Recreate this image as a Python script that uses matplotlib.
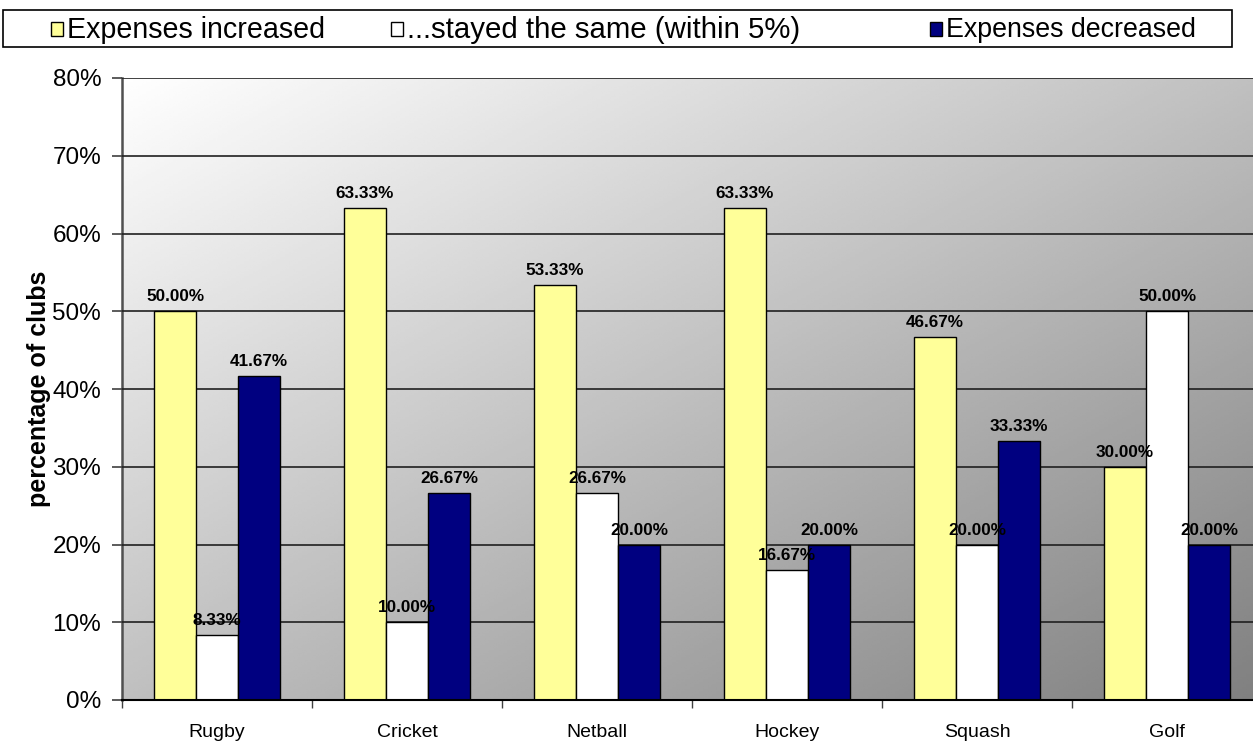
import numpy as np
import matplotlib
matplotlib.use("Agg")
import matplotlib.pyplot as plt
from matplotlib.patches import Rectangle
from matplotlib.ticker import FixedLocator, PercentFormatter

categories = ["Rugby", "Cricket", "Netball", "Hockey", "Squash", "Golf"]
series_names = ["Expenses increased", "...stayed the same (within 5%)", "Expenses decreased"]
increased = [50.00, 63.33, 53.33, 63.33, 46.67, 30.00]
same = [8.33, 10.00, 26.67, 16.67, 20.00, 50.00]
decreased = [41.67, 26.67, 20.00, 20.00, 33.33, 20.00]
colors = ["#FFFF99", "#FFFFFF", "#000080"]
y_ticks = [0, 10, 20, 30, 40, 50, 60, 70, 80]

plt.rcParams['font.family'] = ['Liberation Sans', 'DejaVu Sans']

W, H = 1253, 742
fig = plt.figure(figsize=(W / 100, H / 100), dpi=100)
ax = fig.add_axes([122 / W, (H - 700) / H, (1262 - 122) / W, (700 - 78) / H])

# diagonal gradient background: white top-left -> dark grey bottom-right
n = 256
u = np.linspace(0, 1, n)
v = np.linspace(0, 1, n)
U, V = np.meshgrid(u, v)  # V: 0 at top row (origin='upper')
grad = 1.0 - 0.25 * U - 0.25 * V
ax.imshow(grad, extent=[0, 1, 0, 1], transform=ax.transAxes, origin='upper',
          cmap='gray', vmin=0, vmax=1, aspect='auto', zorder=0, interpolation='bilinear')

x = np.arange(len(categories))
bw = 0.221
all_series = [increased, same, decreased]
for i, (vals, col, name) in enumerate(zip(all_series, colors, series_names)):
    pos = x + (i - 1) * bw
    bars = ax.bar(pos, vals, width=bw, color=col, edgecolor='black', linewidth=1.0, zorder=3, label=name)
    for b, val in zip(bars, vals):
        ax.annotate(f"{val:.2f}%", (b.get_x() + b.get_width() / 2, val), xytext=(0, 5),
                    textcoords='offset points', ha='center', va='bottom',
                    fontsize=12.3, fontweight='bold', zorder=5)

ax.set_xlim(-0.5, len(categories) - 0.5)
ax.set_ylim(0, 80)
ax.yaxis.set_major_locator(FixedLocator(y_ticks))
ax.yaxis.set_major_formatter(PercentFormatter(decimals=0))
ax.yaxis.grid(True, color='#202020', linewidth=1.2, zorder=1)
ax.set_axisbelow(False)
for gl in ax.get_ygridlines():
    gl.set_zorder(1)

ax.set_xticks(x)
ax.set_xticklabels(categories, fontsize=14)
ax.set_xticks(np.arange(len(categories) + 1) - 0.5, minor=True)
ax.tick_params(axis='x', which='major', length=0, pad=17)
ax.tick_params(axis='x', which='minor', length=6, width=1, color='#404040', direction='out')
ax.tick_params(axis='y', which='major', length=7, width=1.2, color='#404040', pad=8, labelsize=17.5)

ax.spines['top'].set_visible(False)
ax.spines['right'].set_visible(False)
ax.spines['left'].set_color('#505050')
ax.spines['left'].set_linewidth(1.8)
ax.spines['bottom'].set_color('black')
ax.spines['bottom'].set_linewidth(1.5)
ax.spines['bottom'].set_zorder(4)

ax.set_ylabel("percentage of clubs", fontsize=18, fontweight='bold', labelpad=1)

# legend box drawn at the top
fig.patches.append(Rectangle((3 / W, 1 - 47 / H), (1232 - 3) / W, (47 - 10) / H,
                             transform=fig.transFigure, facecolor='white',
                             edgecolor='black', linewidth=1.2))
leg_x = [51, 391, 930]
leg_sizes = [20.6, 21.2, 19.3]
for lx, col, name, fs in zip(leg_x, colors, series_names, leg_sizes):
    fig.patches.append(Rectangle((lx / W, 1 - 36 / H), 12 / W, 14 / H,
                                 transform=fig.transFigure, facecolor=col,
                                 edgecolor='black', linewidth=1.0))
    fig.text((lx + 16) / W, 1 - 30 / H, name, fontsize=fs, ha='left', va='center')

fig.savefig("out.png", dpi=100)
